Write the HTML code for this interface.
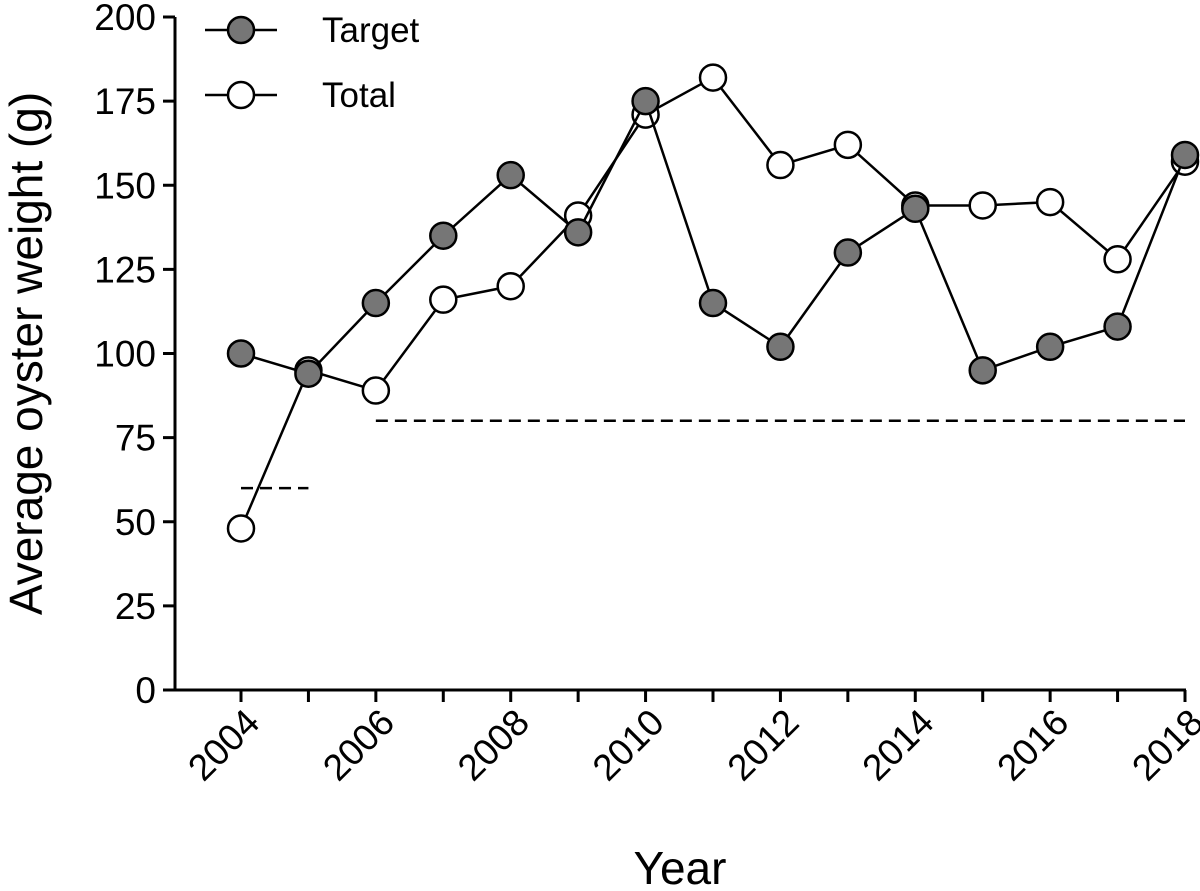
<!DOCTYPE html>
<html><head><meta charset="utf-8"><style>
html,body{margin:0;padding:0;background:#fff;}
svg{display:block;font-family:"Liberation Sans",Arial,sans-serif;}
</style></head><body>
<svg id="chart" width="1200" height="891" viewBox="0 0 1200 891" xmlns="http://www.w3.org/2000/svg">
<g id="axes"></g><g id="plot"></g><g id="legend"></g>
</svg>
<script>
const years=[2004,2005,2006,2007,2008,2009,2010,2011,2012,2013,2014,2015,2016,2017,2018];
const targetValues=[100,94,115,135,153,136,175,115,102,130,143,95,102,108,159];
const totalValues=[48,95,89,116,120,141,171,182,156,162,144,144,145,128,157];
const yTicks=[0,25,50,75,100,125,150,175,200];
const xTickLabels=[2004,2006,2008,2010,2012,2014,2016,2018];
const refLine1={from:2004,to:2005,value:60};
const refLine2={from:2006,to:2018,value:80};

const NS="http://www.w3.org/2000/svg";
const x0=241,x1=1185,y0=690,y1=17;
function xs(v){return x0+(v-2004)/(2018-2004)*(x1-x0);}
function ys(v){return y0-(v/200)*(y0-y1);}
function mk(tag,attrs,parent){const e=document.createElementNS(NS,tag);for(const k in attrs)e.setAttribute(k,attrs[k]);parent.appendChild(e);return e;}
const axes=document.getElementById('axes'),plot=document.getElementById('plot'),legend=document.getElementById('legend');

let e=mk('line',{x1:175,y1:ys(200),x2:175,y2:y0+1,stroke:'#000','stroke-width':3},axes);


e=mk('line',{x1:174,y1:y0,x2:x1+1,y2:y0,stroke:'#000','stroke-width':3},axes);


yTicks.forEach(t=>{
  const y=ys(t);
  let l=mk('line',{x1:163,y1:y,x2:175,y2:y,stroke:'#000','stroke-width':3},axes);
  
  
  let tx=mk('text',{x:156,y:y+13,'text-anchor':'end','font-size':37},axes);
  tx.textContent=t;
  
  
});
years.forEach(yr=>{
  const x=xs(yr);
  let l=mk('line',{x1:x,y1:y0,x2:x,y2:y0+12,stroke:'#000','stroke-width':3},axes);
  
  
});
xTickLabels.forEach(yr=>{
  const x=xs(yr)+2,y=y0+16;
  let tx=mk('text',{x:x,y:y,'text-anchor':'end','font-size':37,transform:`rotate(-45 ${x} ${y})`,'dominant-baseline':'hanging'},axes);
  tx.textContent=yr;
  
  
});
let yt=mk('text',{x:0,y:0,'text-anchor':'middle','font-size':46,transform:`translate(42 ${ys(100)}) rotate(-90)`},axes);
yt.textContent='Average oyster weight (g)';


let xt=mk('text',{x:680,y:884,'text-anchor':'middle','font-size':46},axes);
xt.textContent='Year';



[refLine1,refLine2].forEach(r=>{
  let l=mk('line',{x1:xs(r.from),y1:ys(r.value),x2:xs(r.to),y2:ys(r.value),stroke:'#000','stroke-width':2.5,'stroke-dasharray':'12,7'},plot);
  
  
});

function series(vals,fill,name){
  const pts=vals.map((v,i)=>xs(years[i])+','+ys(v)).join(' ');
  let pl=mk('polyline',{points:pts,fill:'none',stroke:'#000','stroke-width':2.5},plot);
  
  
  vals.forEach((v,i)=>{
    let c=mk('circle',{cx:xs(years[i]),cy:ys(v),r:13,fill:fill,stroke:'#000','stroke-width':2.5},plot);
    
    
  });
}
series(totalValues,'#fff','total');
series(targetValues,'#767676','target');

[[30,'#767676','Target'],[95,'#fff','Total']].forEach(([y,f,t])=>{
  let g=mk('g',{},legend);
  
  
  mk('line',{x1:205,y1:y,x2:277,y2:y,stroke:'#000','stroke-width':2.5},g);
  mk('circle',{cx:241,cy:y,r:13,fill:f,stroke:'#000','stroke-width':2.5},g);
  let tx=mk('text',{x:322,y:y+12,'font-size':35},g);
  tx.textContent=t;
});
</script>
</body></html>
